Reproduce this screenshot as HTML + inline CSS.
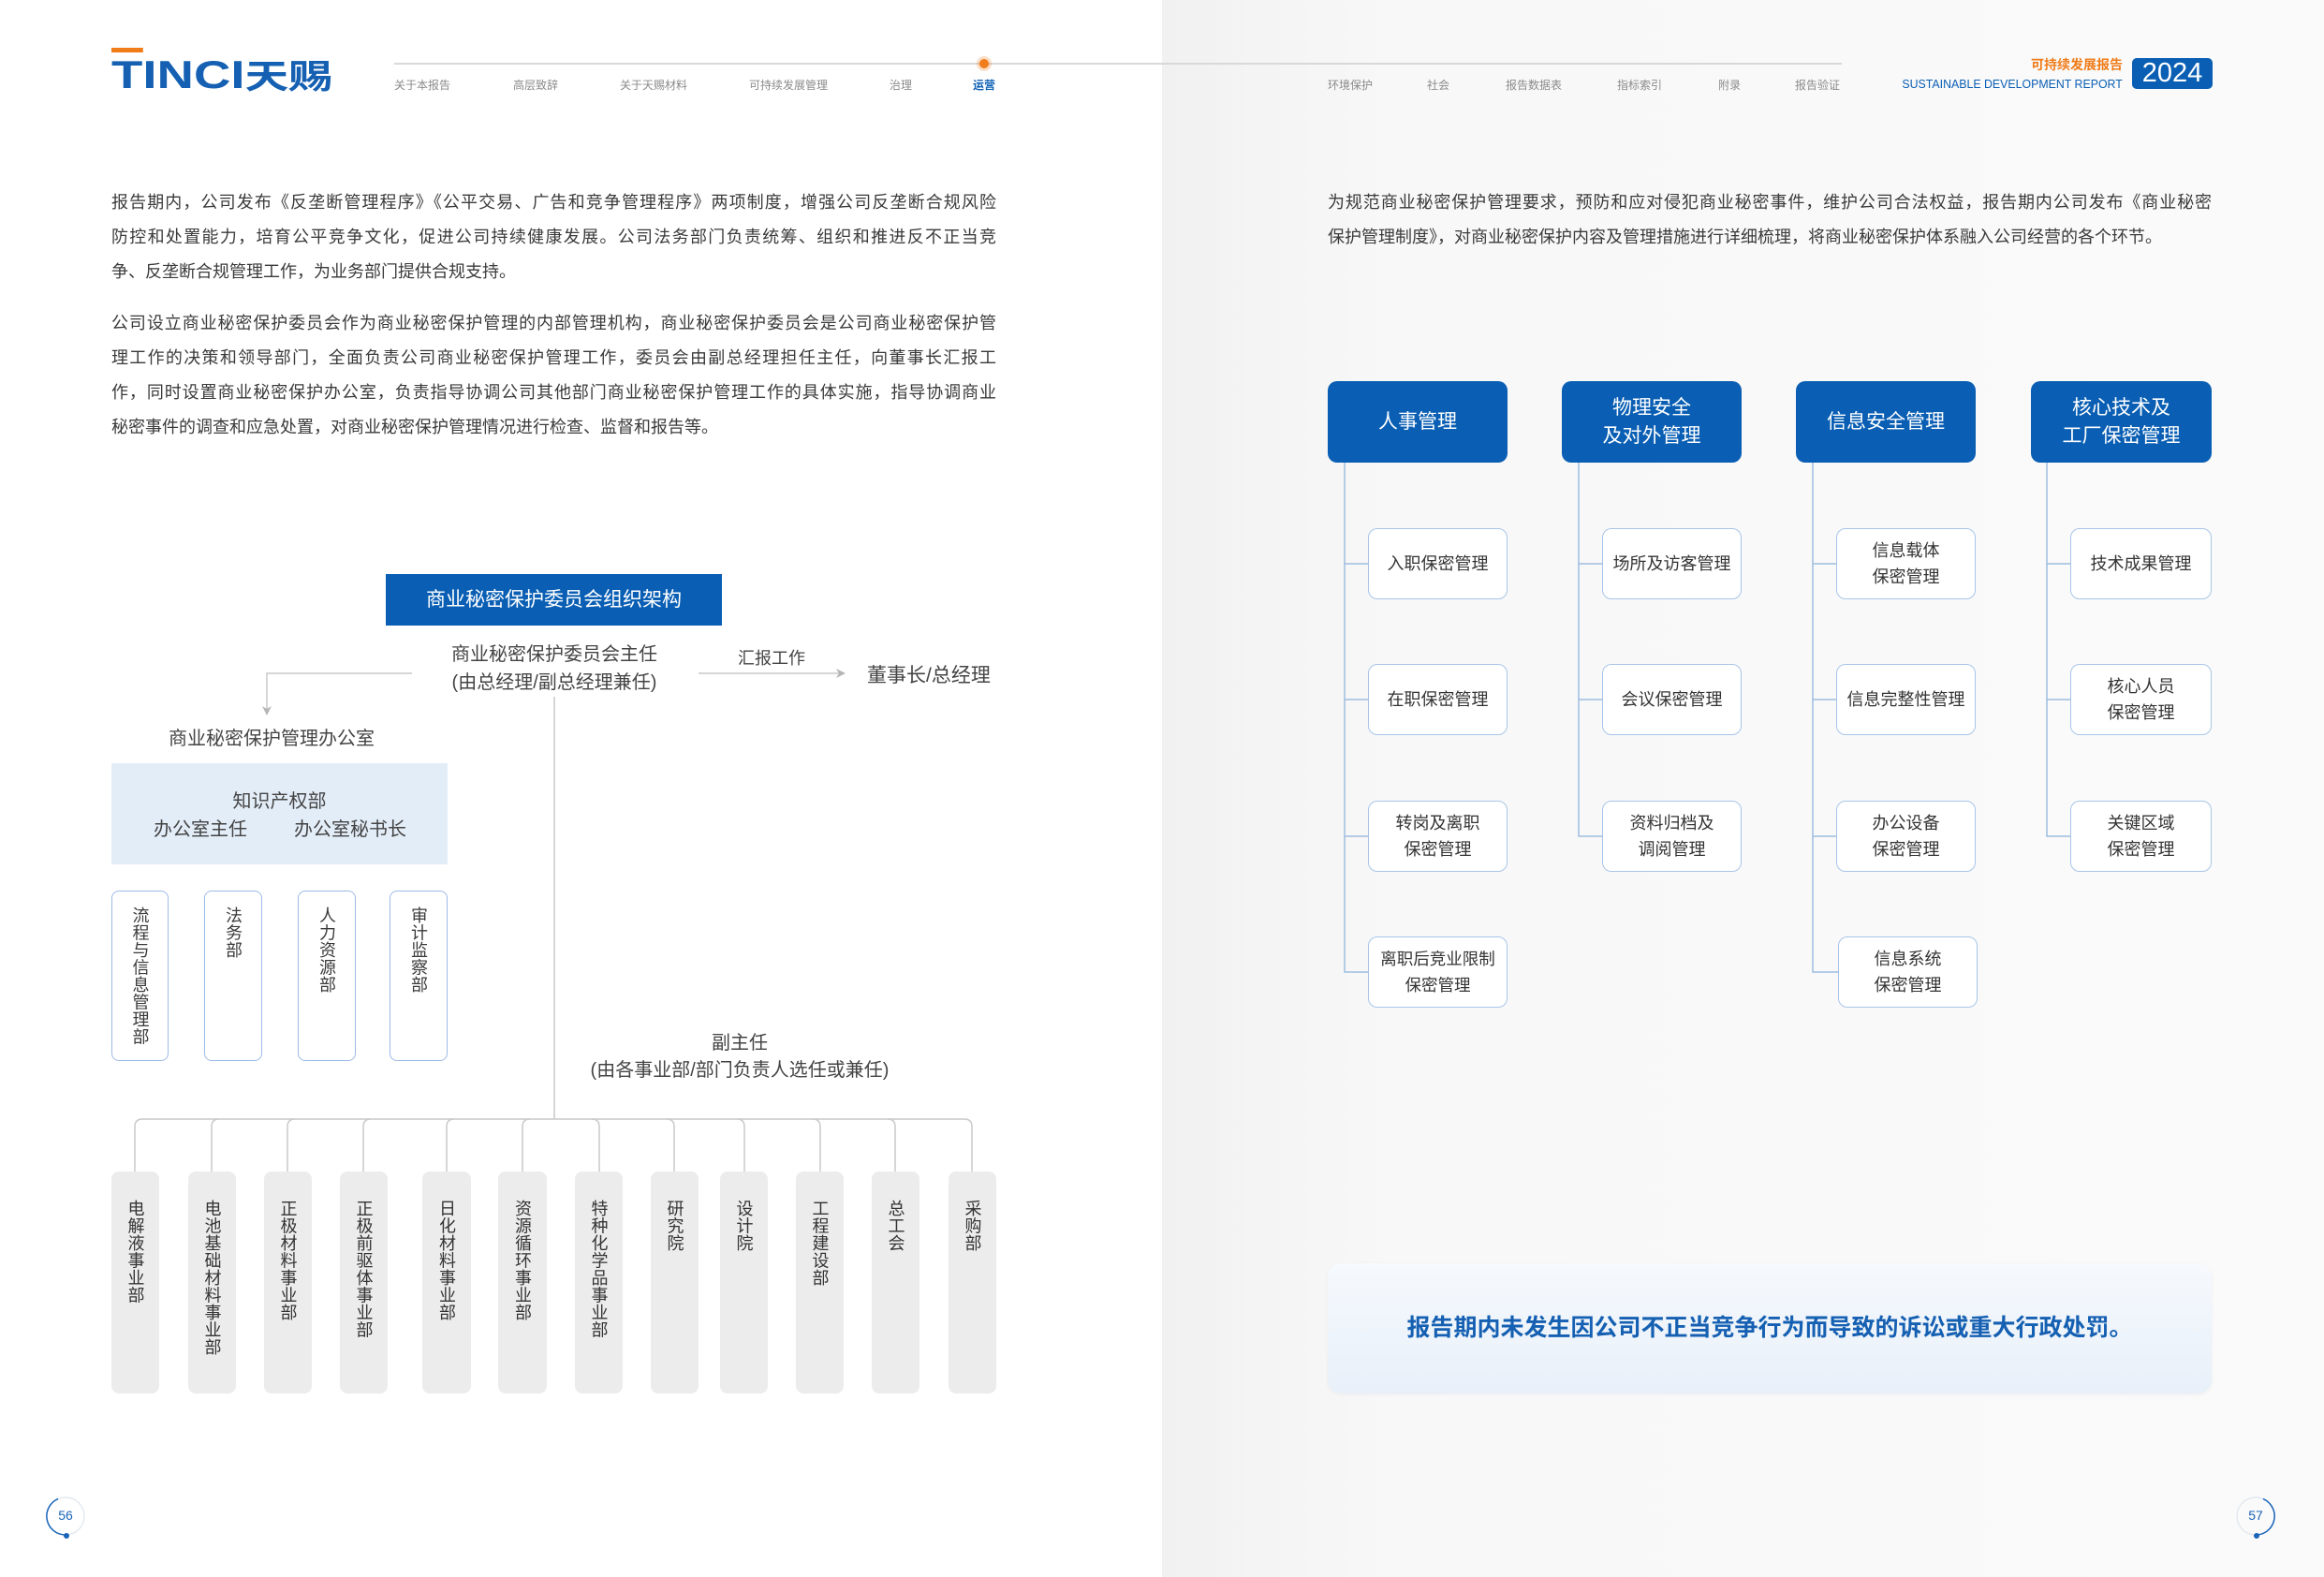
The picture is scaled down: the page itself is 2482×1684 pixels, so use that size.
<!DOCTYPE html>
<html><head><meta charset="utf-8"><style>
*{margin:0;padding:0;box-sizing:border-box}
body{width:2482px;height:1684px;position:relative;background:#fff;font-family:"Liberation Sans","Noto Sans CJK SC",sans-serif;color:#3a3a3a;overflow:hidden}
.a{position:absolute}
.rp{position:absolute;left:1241px;top:0;width:1241px;height:1684px;background:linear-gradient(90deg,#f1f1f1 0%,#f8f8f8 20%,#fafafa 100%)}
.nav{position:absolute;top:82px;font-size:12px;color:#8a8a8a;white-space:nowrap}
.para div{height:37px;line-height:37px;font-size:18px;text-align:justify;text-align-last:justify;white-space:nowrap;overflow:visible}
.para div.l{text-align-last:left}
.c{text-align:center;white-space:nowrap}
.vb{position:absolute;border:1.5px solid #9dbbe6;border-radius:8px;background:#fff}
.vt{writing-mode:vertical-rl;text-orientation:upright;font-size:18px;line-height:18px;color:#3a3a3a;position:absolute;left:50%;transform:translateX(-50%);top:16px;letter-spacing:0.5px}
.gb{position:absolute;top:1251px;height:237px;background:#ececec;border-radius:8px}
.gb .vt{top:30px;color:#333}
.hd{position:absolute;top:407px;height:87px;width:192px;background:#0a5fb4;border-radius:10px;color:#fff;font-size:21px;line-height:30px;display:flex;align-items:center;justify-content:center;text-align:center}
.cb{position:absolute;height:76px;width:149px;border:1.5px solid #a8c5e8;border-radius:10px;background:#fff;font-size:18px;line-height:28px;color:#333;display:flex;align-items:center;justify-content:center;text-align:center}
</style></head><body>
<div class="rp"></div>

<!-- header -->
<div class="a" style="left:119px;top:58px;font-size:42px;font-weight:bold;color:#1560b2;white-space:nowrap;line-height:44px;transform:scaleX(1.3);transform-origin:left top"><span style="border-top:5px solid #f07c1a">T</span>INCI<span style="font-size:36px">天赐</span></div>
<div class="a" style="left:421px;top:67px;width:1546px;height:2px;background:#d8d8d8"></div>
<div class="a" style="left:1046px;top:63px;width:10px;height:10px;border-radius:50%;background:#f07c1a;box-shadow:0 0 0 3px rgba(240,124,26,.25)"></div>
<div class="nav" style="left:421px">关于本报告</div>
<div class="nav" style="left:548px">高层致辞</div>
<div class="nav" style="left:662px">关于天赐材料</div>
<div class="nav" style="left:800px">可持续发展管理</div>
<div class="nav" style="left:950px">治理</div>
<div class="nav" style="left:1039px;color:#0a5fb4;font-weight:bold">运营</div>
<div class="nav" style="left:1418px">环境保护</div>
<div class="nav" style="left:1524px">社会</div>
<div class="nav" style="left:1608px">报告数据表</div>
<div class="nav" style="left:1727px">指标索引</div>
<div class="nav" style="left:1835px">附录</div>
<div class="nav" style="left:1917px">报告验证</div>
<div class="a" style="right:215px;top:59px;font-size:14px;color:#f07c1a;font-weight:bold;white-space:nowrap">可持续发展报告</div>
<div class="a" style="right:215px;top:82px;font-size:13px;color:#0a5fb4;white-space:nowrap;transform:scaleX(0.95);transform-origin:right top">SUSTAINABLE DEVELOPMENT REPORT</div>
<div class="a" style="left:2277px;top:62px;width:86px;height:33px;background:#0a5fb4;border-radius:5px;color:#fff;font-size:29px;line-height:33px;text-align:center">2024</div>

<!-- left paragraphs -->
<div class="a para" style="left:119px;top:198px;width:945px">
<div>报告期内，公司发布《反垄断管理程序》《公平交易、广告和竞争管理程序》两项制度，增强公司反垄断合规风险</div>
<div>防控和处置能力，培育公平竞争文化，促进公司持续健康发展。公司法务部门负责统筹、组织和推进反不正当竞</div>
<div class="l">争、反垄断合规管理工作，为业务部门提供合规支持。</div>
</div>
<div class="a para" style="left:119px;top:327px;width:945px">
<div>公司设立商业秘密保护委员会作为商业秘密保护管理的内部管理机构，商业秘密保护委员会是公司商业秘密保护管</div>
<div>理工作的决策和领导部门，全面负责公司商业秘密保护管理工作，委员会由副总经理担任主任，向董事长汇报工</div>
<div>作，同时设置商业秘密保护办公室，负责指导协调公司其他部门商业秘密保护管理工作的具体实施，指导协调商业</div>
<div class="l">秘密事件的调查和应急处置，对商业秘密保护管理情况进行检查、监督和报告等。</div>
</div>

<!-- right paragraph -->
<div class="a para" style="left:1418px;top:198px;width:944px">
<div>为规范商业秘密保护管理要求，预防和应对侵犯商业秘密事件，维护公司合法权益，报告期内公司发布《商业秘密</div>
<div class="l">保护管理制度》，对商业秘密保护内容及管理措施进行详细梳理，将商业秘密保护体系融入公司经营的各个环节。</div>
</div>

<svg class="a" style="left:0;top:0" width="2482" height="1684">
<g fill="none" stroke="#c9c9c9" stroke-width="1.5">
<path d="M440 719 H285 V758"/>
<path d="M746 719 H897"/>
<path d="M592 744 V1195"/>
<path d="M144 1251 V1203 Q144 1195 152 1195 H1030 Q1038 1195 1038 1203 V1251"/>
<path d="M226 1251 V1203 Q226 1195 234 1195"/>
<path d="M307 1251 V1203 Q307 1195 315 1195"/>
<path d="M388 1251 V1203 Q388 1195 396 1195"/>
<path d="M477 1251 V1203 Q477 1195 485 1195"/>
<path d="M558 1251 V1203 Q558 1195 566 1195"/>
<path d="M640 1251 V1203 Q640 1195 632 1195"/>
<path d="M720 1251 V1203 Q720 1195 712 1195"/>
<path d="M795 1251 V1203 Q795 1195 787 1195"/>
<path d="M876 1251 V1203 Q876 1195 868 1195"/>
<path d="M956 1251 V1203 Q956 1195 948 1195"/>
</g>
<path d="M280 754 L285 764 L290 754 L285 757 Z" fill="#b5b5b5"/>
<path d="M893 714 L903 719 L893 724 L896 719 Z" fill="#b5b5b5"/>
<g fill="none" stroke="#9dbde0" stroke-width="1.5">
<path d="M1436 494 V1038 H1461 M1436 602 H1461 M1436 747 H1461 M1436 893 H1461"/>
<path d="M1686 494 V893 H1711 M1686 602 H1711 M1686 747 H1711"/>
<path d="M1936 494 V1038 H1963 M1936 602 H1961 M1936 747 H1961 M1936 893 H1961"/>
<path d="M2186 494 V893 H2211 M2186 602 H2211 M2186 747 H2211"/>
</g>
<circle cx="70" cy="1619" r="20" fill="none" stroke="#dfe6ef" stroke-width="1.2"/>
<path d="M70 1639 A20 20 0 0 1 62 1600.6" fill="none" stroke="#1a64b8" stroke-width="1.5"/>
<circle cx="71" cy="1640" r="3" fill="#1a64b8"/>
<circle cx="2409" cy="1619" r="20" fill="none" stroke="#dfe6ef" stroke-width="1.2"/>
<path d="M2409 1639 A20 20 0 0 0 2417 1600.6" fill="none" stroke="#1a64b8" stroke-width="1.5"/>
<circle cx="2410" cy="1640" r="3" fill="#1a64b8"/>
</svg>
<div class="a c" style="left:50px;top:1610px;width:40px;font-size:14px;color:#1a64b8">56</div>
<div class="a c" style="left:2389px;top:1610px;width:40px;font-size:14px;color:#1a64b8">57</div>

<!-- left chart -->
<div class="a c" style="left:412px;top:613px;width:359px;height:55px;background:#0a5fb4;color:#fff;font-size:21px;line-height:55px">商业秘密保护委员会组织架构</div>
<div class="a c" style="left:442px;top:684px;width:300px;font-size:20px;line-height:30px;color:#444">商业秘密保护委员会主任<br>(由总经理/副总经理兼任)</div>
<div class="a c" style="left:777px;top:689px;width:94px;font-size:18px;color:#444">汇报工作</div>
<div class="a" style="left:926px;top:705px;font-size:21px;color:#444;white-space:nowrap">董事长/总经理</div>
<div class="a c" style="left:160px;top:772px;width:260px;font-size:20px;color:#444">商业秘密保护管理办公室</div>
<div class="a" style="left:119px;top:815px;width:359px;height:108px;background:#e3edf8"></div>
<div class="a c" style="left:119px;top:839px;width:359px;font-size:20px;color:#444">知识产权部</div>
<div class="a c" style="left:144px;top:869px;width:140px;font-size:20px;color:#444">办公室主任</div>
<div class="a c" style="left:294px;top:869px;width:160px;font-size:20px;color:#444">办公室秘书长</div>

<div class="vb" style="left:119px;top:951px;width:61px;height:182px"><div class="vt">流程与信息管理部</div></div>
<div class="vb" style="left:218px;top:951px;width:62px;height:182px"><div class="vt">法务部</div></div>
<div class="vb" style="left:318px;top:951px;width:62px;height:182px"><div class="vt">人力资源部</div></div>
<div class="vb" style="left:416px;top:951px;width:62px;height:182px"><div class="vt">审计监察部</div></div>

<div class="a c" style="left:590px;top:1100px;width:400px;font-size:20px;line-height:29px;color:#444">副主任<br>(由各事业部/部门负责人选任或兼任)</div>

<div class="gb" style="left:119px;width:51px"><div class="vt">电解液事业部</div></div>
<div class="gb" style="left:201px;width:51px"><div class="vt">电池基础材料事业部</div></div>
<div class="gb" style="left:282px;width:51px"><div class="vt">正极材料事业部</div></div>
<div class="gb" style="left:363px;width:51px"><div class="vt">正极前驱体事业部</div></div>
<div class="gb" style="left:451px;width:52px"><div class="vt">日化材料事业部</div></div>
<div class="gb" style="left:532px;width:52px"><div class="vt">资源循环事业部</div></div>
<div class="gb" style="left:614px;width:51px"><div class="vt">特种化学品事业部</div></div>
<div class="gb" style="left:695px;width:51px"><div class="vt">研究院</div></div>
<div class="gb" style="left:769px;width:51px"><div class="vt">设计院</div></div>
<div class="gb" style="left:850px;width:51px"><div class="vt">工程建设部</div></div>
<div class="gb" style="left:931px;width:51px"><div class="vt">总工会</div></div>
<div class="gb" style="left:1013px;width:51px"><div class="vt">采购部</div></div>

<!-- right chart -->
<div class="hd" style="left:1418px">人事管理</div>
<div class="hd" style="left:1668px">物理安全<br>及对外管理</div>
<div class="hd" style="left:1918px">信息安全管理</div>
<div class="hd" style="left:2169px;width:193px">核心技术及<br>工厂保密管理</div>

<div class="cb" style="left:1461px;top:564px">入职保密管理</div>
<div class="cb" style="left:1461px;top:709px">在职保密管理</div>
<div class="cb" style="left:1461px;top:855px">转岗及离职<br>保密管理</div>
<div class="cb" style="left:1461px;top:1000px;font-size:17.5px">离职后竞业限制<br>保密管理</div>

<div class="cb" style="left:1711px;top:564px">场所及访客管理</div>
<div class="cb" style="left:1711px;top:709px">会议保密管理</div>
<div class="cb" style="left:1711px;top:855px">资料归档及<br>调阅管理</div>

<div class="cb" style="left:1961px;top:564px">信息载体<br>保密管理</div>
<div class="cb" style="left:1961px;top:709px">信息完整性管理</div>
<div class="cb" style="left:1961px;top:855px">办公设备<br>保密管理</div>
<div class="cb" style="left:1963px;top:1000px">信息系统<br>保密管理</div>

<div class="cb" style="left:2211px;top:564px;width:151px">技术成果管理</div>
<div class="cb" style="left:2211px;top:709px;width:151px">核心人员<br>保密管理</div>
<div class="cb" style="left:2211px;top:855px;width:151px">关键区域<br>保密管理</div>

<div class="a c" style="left:1418px;top:1349px;width:944px;height:139px;border-radius:14px;background:linear-gradient(180deg,#f6f9fd 0%,#e8f0f9 100%);box-shadow:0 1px 4px rgba(0,0,0,.05);font-size:25px;font-weight:bold;color:#1560b2;line-height:139px">报告期内未发生因公司不正当竞争行为而导致的诉讼或重大行政处罚。</div>
</body></html>
